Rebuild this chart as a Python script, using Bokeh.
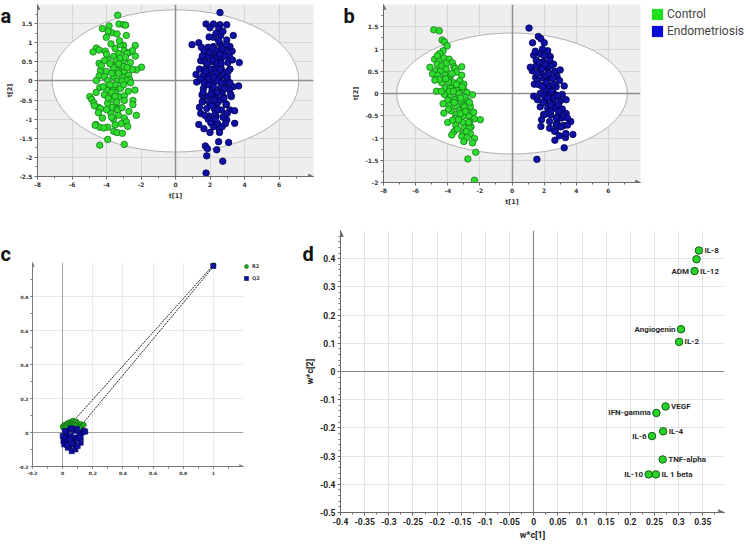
import numpy as np
from bokeh.plotting import figure
from bokeh.layouts import column, row
from bokeh.models import (Range1d, FixedTicker, NumeralTickFormatter, Label, LabelSet, GridBox,
                          ColumnDataSource, Legend, LegendItem, Arrow, NormalHead)
from bokeh.core.properties import value
from bokeh.embed import file_html
from bokeh.resources import INLINE

# ------------------------------------------------------------------ data
# Panel a: OPLS-DA score plot t[1] vs t[2]
A_CONTROL = [(-3.35,1.72),(-4.24,1.37),(-3.85,1.44),(-3.28,1.49),(-3.01,1.47),(-2.89,1.46),(-3.68,1.26),
 (-3.39,1.23),(-4.01,1.14),(-2.85,1.19),(-3.74,0.97),(-3.01,0.93),(-2.33,0.93),(-4.59,0.86),(-4.43,0.81),
 (-4.78,0.76),(-4.07,0.78),(-3.29,0.72),(-2.97,0.79),(-2.72,0.74),(-2.50,0.79),(-2.33,0.65),(-2.81,0.72),
 (-3.58,0.64),(-3.93,0.57),(-4.43,0.46),(-4.12,0.53),(-3.43,0.53),(-3.01,0.53),(-2.62,0.48),(-1.97,0.36),
 (-2.27,0.29),(-3.16,0.39),(-3.62,0.39),(-4.35,0.27),(-4.01,0.25),(-3.39,0.27),(-2.97,0.25),(-2.72,0.15),
 (-4.43,0.13),(-4.12,0.11),(-3.58,0.11),(-3.10,0.10),(-2.66,0.04),(-4.59,0.01),(-3.93,0.01),(-3.39,-0.01),
 (-2.81,0.01),(-4.39,-0.17),(-3.93,-0.18),(-3.58,-0.18),(-2.74,-0.27),(-2.35,-0.24),(-3.97,-0.25),
 (-3.49,-0.31),(-4.97,-0.41),(-4.86,-0.48),(-4.12,-0.36),(-3.70,-0.48),(-3.28,-0.41),(-2.97,-0.39),
 (-2.47,-0.51),(-2.47,-0.62),(-4.74,-0.57),(-4.47,-0.69),(-3.93,-0.58),(-3.47,-0.65),(-2.97,-0.51),
 (-4.70,-0.65),(-4.35,-0.72),(-3.66,-0.69),(-3.39,-0.74),(-4.47,-0.83),(-3.74,-0.85),(-3.35,-0.76),
 (-4.24,-0.97),(-2.97,-0.97),(-2.27,-0.90),(-2.85,-1.07),(-4.62,-1.14),(-3.93,-1.21),(-3.16,-1.12),
 (-2.77,-1.19),(-4.39,-1.21),(-4.16,-1.23),(-3.58,-1.32),(-3.39,-1.35),(-3.08,-1.37),(-3.93,-1.53),
 (-4.39,-1.68),(-2.97,-1.66),(-4.66,-1.16),(-3.30,0.20),(-3.50,-0.10),(-3.20,-0.20),(-3.60,0.35),
 (-3.00,0.38),(-3.40,-0.55),(-3.70,-0.30),(-3.10,0.00),(-3.80,0.45),(-3.20,0.60),(-3.50,0.85),
 (-4.20,-0.15),(-3.90,-0.45),(-3.30,-0.90),(-3.60,-1.00),(-4.00,0.70),(-3.20,0.95),(-2.90,0.62),
 (-3.70,0.20),(-4.30,0.40),(-3.00,-0.10),(-3.80,-0.10),(-2.60,-0.05),(-3.50,-0.40),(-4.00,-0.75),
 (-3.10,-0.70),(-2.70,-0.80),(-3.50,-1.15),(-4.60,-0.30),(-2.50,0.30),(-3.25,1.05),(-3.90,1.30),
 (-3.30,0.45),(-2.80,0.35),(-3.70,-0.95)]
A_ENDO = [(2.58,1.79),(1.77,1.49),(2.20,1.49),(2.58,1.47),(2.97,1.47),(2.00,1.39),(2.50,1.37),(3.35,1.19),
 (2.62,1.19),(2.20,1.14),(2.97,1.07),(0.96,0.95),(1.35,1.00),(1.50,0.88),(1.89,0.88),(2.20,0.90),(2.58,0.97),
 (3.16,0.90),(1.66,0.78),(2.04,0.76),(2.43,0.79),(2.89,0.79),(3.28,0.78),(1.89,0.65),(2.27,0.64),(2.66,0.60),
 (3.12,0.64),(1.46,0.53),(1.73,0.50),(2.12,0.50),(2.58,0.48),(3.04,0.48),(3.70,0.48),(1.39,0.31),(1.81,0.36),
 (2.24,0.32),(2.66,0.31),(3.16,0.31),(1.19,0.17),(1.62,0.15),(2.00,0.15),(2.43,0.17),(2.85,0.13),(3.66,-0.13),
 (1.23,-0.03),(1.70,-0.04),(2.12,-0.04),(2.58,-0.01),(3.04,-0.01),(3.35,-0.15),(1.62,-0.20),(2.12,-0.24),
 (2.58,-0.20),(3.12,-0.22),(1.54,-0.37),(1.89,-0.41),(2.35,-0.39),(2.81,-0.43),(3.24,-0.41),(1.58,-0.53),
 (1.97,-0.57),(2.43,-0.58),(2.93,-0.62),(1.39,-0.69),(1.81,-0.72),(2.27,-0.74),(2.66,-0.76),(3.16,-0.76),
 (3.43,-0.78),(1.46,-0.85),(1.93,-0.92),(2.35,-0.92),(2.81,-0.93),(2.97,-1.02),(1.35,-1.14),(1.89,-1.00),
 (2.43,-1.11),(2.89,-1.12),(3.43,-1.11),(2.00,-1.35),(2.54,-1.25),(2.50,-1.59),(3.08,-1.61),(1.73,-1.70),
 (1.85,-1.77),(1.81,-1.96),(2.39,-1.80),(2.74,-2.10),(1.77,-2.41),(2.30,0.60),(2.00,0.30),(2.50,0.05),
 (2.20,-0.15),(2.70,-0.30),(1.90,-0.10),(2.40,0.45),(2.80,0.20),(2.10,-0.65),(2.60,-0.50),(1.80,0.05),
 (2.90,-0.05),(2.30,-0.85),(2.00,0.75),(2.70,0.85),(1.70,0.30),(2.50,1.05),(3.00,0.10),(2.20,-1.20),(1.60,-0.30),
 (1.55,0.65),(1.75,0.25),(1.95,0.05),(2.15,0.85),(2.35,0.20),(2.45,-0.30),(2.65,0.45),(2.85,0.65),(3.05,0.25),
 (3.20,-0.35),(2.95,-0.60),(2.75,-0.95),(2.55,-1.35),(2.05,-1.10),(1.70,-0.90),(1.55,-0.55),(1.45,0.05),
 (1.65,-0.05),(2.25,-0.50),(2.45,-0.75),(2.85,-0.20),(3.30,0.55),(2.35,1.25),(2.75,1.30),(1.95,1.15),
 (2.15,0.55),(2.55,0.70),(2.95,0.95),(2.05,-0.35),(2.65,-0.05),(3.15,-0.05),(1.85,0.45),(2.40,0.00),
 (2.60,0.30),(2.20,0.10),(2.80,-0.45),(3.00,-0.85),(2.30,-1.00),(1.65,-1.25),(2.70,-1.20)]
A_ELLIPSE_AXES = (14.3, 3.72)          # full widths of the Hotelling T2 ellipse (t[1], t[2])

# Panel b: score plot
B_CONTROL = [(-4.87,1.43),(-4.53,1.41),(-4.35,1.20),(-4.20,1.16),(-4.04,1.07),(-4.29,0.96),(-4.82,0.77),
 (-4.53,0.74),(-4.24,0.80),(-3.91,0.77),(-4.66,0.66),(-4.37,0.62),(-4.08,0.68),(-3.71,0.69),(-3.62,0.60),
 (-5.11,0.59),(-4.74,0.51),(-4.45,0.50),(-3.54,0.56),(-3.13,0.60),(-4.95,0.44),(-4.62,0.41),(-4.16,0.42),
 (-3.83,0.39),(-3.46,0.48),(-3.13,0.41),(-4.37,0.24),(-3.91,0.29),(-3.62,0.24),(-3.25,0.29),(-3.00,0.21),
 (-4.16,0.12),(-3.83,0.12),(-3.46,0.09),(-3.00,0.08),(-2.80,0.02),(-4.70,0.05),(-4.20,-0.02),(-3.83,-0.05),
 (-3.37,-0.08),(-2.92,-0.09),(-2.46,-0.03),(-4.00,-0.15),(-3.58,-0.14),(-3.17,-0.17),(-2.75,-0.17),
 (-4.29,-0.23),(-3.87,-0.27),(-3.42,-0.30),(-3.00,-0.27),(-2.59,-0.29),(-3.79,-0.39),(-3.29,-0.39),
 (-2.80,-0.41),(-2.38,-0.42),(-4.24,-0.44),(-3.50,-0.48),(-3.04,-0.51),(-2.67,-0.51),(-1.97,-0.59),
 (-2.34,-0.57),(-3.54,-0.56),(-4.00,-0.65),(-3.08,-0.65),(-2.63,-0.63),(-3.50,-0.72),(-2.96,-0.77),
 (-2.55,-0.75),(-3.62,-0.86),(-3.75,-0.93),(-3.04,-0.90),(-2.67,-0.78),(-2.59,-0.90),(-3.13,-0.96),
 (-2.80,-0.99),(-2.34,-1.01),(-3.00,-1.08),(-2.46,-1.11),(-2.26,-1.32),(-2.75,-1.47),(-2.34,-1.95),
 (-3.95,0.26),(-4.12,0.33),(-2.96,-0.30),(-3.33,-0.59),(-4.53,0.32),(-3.60,-0.20),(-3.30,0.00),
 (-3.90,0.05),(-3.20,-0.45),(-4.50,0.90),(-3.70,-0.60),(-4.65,0.85),(-4.10,0.55),(-3.75,0.45),
 (-3.45,0.20),(-3.20,-0.10),(-2.90,-0.40),(-2.70,-0.65),(-3.40,-0.80),(-4.40,0.05),(-3.65,0.05),
 (-2.65,-0.20),(-3.95,-0.35),(-2.85,-0.85),(-4.80,0.30),(-3.10,0.15)]
B_ENDO = [(1.06,1.47),(1.28,1.14),(1.64,1.28),(1.80,1.23),(2.01,1.14),(1.35,0.86),(1.76,0.89),(2.22,0.96),
 (1.51,0.75),(1.93,0.71),(2.38,0.83),(1.68,0.60),(2.17,0.60),(2.59,0.66),(1.26,0.51),(1.76,0.48),(2.26,0.48),
 (2.67,0.50),(3.00,0.53),(1.47,0.36),(1.93,0.35),(2.38,0.35),(2.80,0.39),(1.39,0.21),(1.84,0.18),(2.30,0.17),
 (2.75,0.15),(3.25,0.17),(1.35,-0.06),(1.76,0.00),(2.26,-0.02),(2.71,-0.03),(3.13,-0.02),(1.59,-0.14),
 (2.05,-0.18),(2.55,-0.20),(3.00,-0.17),(3.37,-0.14),(1.76,-0.30),(2.22,-0.33),(2.71,-0.33),(3.13,-0.35),
 (1.97,-0.47),(2.42,-0.48),(2.92,-0.47),(3.37,-0.45),(1.84,-0.59),(2.34,-0.63),(2.80,-0.66),(3.66,-0.63),
 (1.80,-0.74),(2.34,-0.78),(2.75,-0.71),(3.21,-0.72),(3.46,-0.71),(3.79,-0.92),(3.33,-0.99),(2.71,-0.84),
 (2.67,-1.05),(3.25,-1.22),(1.55,-1.48),(2.59,0.21),(2.09,0.08),(2.51,0.06),(2.96,0.29),(1.14,0.59),
 (1.51,0.62),(2.38,0.62),(2.05,-0.47),(3.35,-0.90),(1.60,0.30),(2.10,0.40),(2.50,-0.10),(2.00,-0.05),
 (2.90,-0.25),(1.90,1.00),(2.40,-0.40),(3.10,-0.55),(1.45,0.95),(1.70,0.70),(1.85,0.55),(2.00,0.85),
 (2.15,0.25),(2.30,0.45),(2.45,0.05),(2.60,-0.10),(2.75,-0.55),(2.90,-0.40),(3.05,-0.75),(2.20,-0.10),
 (1.65,0.20),(1.90,0.15),(2.40,-0.25),(2.55,0.35),(2.85,-0.05),(3.20,-0.50),(2.10,0.65),(1.55,0.45),
 (2.65,-0.85),(2.95,-0.95),(3.45,-0.55),(2.35,0.75),(1.95,-0.20)]
B_ELLIPSE_AXES = (14.36, 2.72)

# Panel c: permutation test (R2 and Q2)
C_R2_X = [0.0, 0.01, 0.02, 0.03, 0.035, 0.045, 0.05, 0.06, 0.065, 0.07, 0.08, 0.09, 0.095, 0.10, 0.11,
          0.12, 0.13, 0.005, 0.025, 0.055, 0.075, 0.085, 0.105, 0.115, 0.14, 1.0]
C_R2_Y = [0.035, 0.045, 0.04, 0.055, 0.05, 0.06, 0.045, 0.065, 0.055, 0.07, 0.06, 0.065, 0.05, 0.055, 0.045,
          0.05, 0.04, 0.025, 0.03, 0.035, 0.045, 0.04, 0.035, 0.03, 0.045, 0.985]
C_Q2_X = [0.0, 0.005, 0.01, 0.02, 0.025, 0.03, 0.04, 0.045, 0.05, 0.055, 0.06, 0.07, 0.075, 0.08, 0.09,
          0.10, 0.11, 0.12, 0.13, 0.14, 0.015, 0.035, 0.065, 0.085, 0.095, 0.05, 0.03, 0.06, 0.10, 0.12,
          0.15, 1.0]
C_Q2_Y = [-0.02, -0.05, -0.07, -0.03, -0.06, 0.0, -0.04, -0.08, 0.02, -0.02, -0.11, -0.05, 0.01, -0.07,
          -0.03, -0.04, -0.01, -0.06, 0.0, 0.01, 0.01, -0.09, -0.065, -0.10, 0.02, -0.04, -0.075, 0.025,
          -0.08, -0.03, 0.005, 0.98]
C_R2_FIT_X = [0.09, 1.0]
C_R2_FIT_Y = [0.085, 0.985]
C_Q2_FIT_X = [0.13, 1.0]
C_Q2_FIT_Y = [0.05, 0.975]

# Panel d: loading plot w*c[1] vs w*c[2]
D_X = [0.342, 0.337, 0.333, 0.305, 0.301, 0.273, 0.254, 0.268, 0.245, 0.267, 0.238, 0.253]
D_Y = [0.429, 0.398, 0.356, 0.150, 0.105, -0.124, -0.147, -0.212, -0.229, -0.312, -0.365, -0.365]
D_LABEL_TEXT = ["IL-8", "ADM", "IL-12", "Angiogenin", "IL-2", "VEGF", "IFN-gamma", "IL-4", "IL-6",
                "TNF-alpha", "IL-10", "IL 1 beta"]
D_LABEL_POINT = [0, 2, 2, 3, 4, 5, 6, 7, 8, 9, 10, 11]
D_LABEL_SIDE = ["right", "left", "right", "left", "right", "right", "left", "right", "left",
                "right", "left", "right"]

# ticks
AB_X_TICKS = [-8, -6, -4, -2, 0, 2, 4, 6]
A_Y_TICKS = [-2.5, -2, -1.5, -1, -0.5, 0, 0.5, 1, 1.5]
B_Y_TICKS = [-2, -1.5, -1, -0.5, 0, 0.5, 1, 1.5]
C_X_TICKS = [-0.2, 0, 0.2, 0.4, 0.6, 0.8, 1]
C_Y_TICKS = [-0.2, 0, 0.2, 0.4, 0.6, 0.8]
D_X_TICKS = [-0.4, -0.35, -0.3, -0.25, -0.2, -0.15, -0.1, -0.05, 0, 0.05, 0.1, 0.15, 0.2, 0.25, 0.3, 0.35]
D_Y_TICKS = [-0.5, -0.4, -0.3, -0.2, -0.1, 0, 0.1, 0.2, 0.3, 0.4]

# ------------------------------------------------------------------ styles
GREEN, GREEN_LINE = "#2edc2e", "#15781a"
BLUE, BLUE_LINE = "#1010a6", "#00004d"
LEG_GREEN, LEG_BLUE = "#1fe01f", "#0a0ad6"
PANEL_BG = "#eeeeee"
FONT = "DejaVu Sans"
AFONT = "Roboto"
W, H = 746, 547
TOP_H, BOT_H = 222, 325


def make_fig(w, h, xr, yr, borders, bg):
    l, r, t, b = borders
    return figure(width=w, height=h, x_range=Range1d(*xr), y_range=Range1d(*yr),
                  output_backend="svg", toolbar_location=None, frame_align=False,
                  min_border_left=l, min_border_right=r, min_border_top=t, min_border_bottom=b,
                  background_fill_color=bg, border_fill_color="white", outline_line_color=None)


def style(p, xt, yt, xminor, yminor, font, fsize, xlabel, ylabel, lsize, grid_color, axis_color,
          tick_out=3, standoff=2, label_color="#333333"):
    p.xaxis[0].ticker = FixedTicker(ticks=xt, minor_ticks=xminor)
    p.yaxis[0].ticker = FixedTicker(ticks=yt, minor_ticks=yminor)
    p.xgrid[0].ticker = FixedTicker(ticks=xt)
    p.ygrid[0].ticker = FixedTicker(ticks=yt)
    for g in (p.xgrid[0], p.ygrid[0]):
        g.grid_line_color = grid_color
        g.grid_line_width = 1
    for ax in (p.xaxis[0], p.yaxis[0]):
        ax.formatter = NumeralTickFormatter(format="0.[00]")
        ax.major_label_text_font = font
        ax.major_label_text_font_size = fsize
        ax.major_label_text_font_style = "bold"
        ax.major_label_text_color = label_color
        ax.axis_line_color = axis_color
        ax.major_tick_line_color = axis_color
        ax.minor_tick_line_color = axis_color
        ax.major_tick_in = 0
        ax.major_tick_out = tick_out
        ax.minor_tick_in = 0
        ax.minor_tick_out = 2
        ax.major_label_standoff = standoff
        ax.axis_label_text_font = font
        ax.axis_label_text_font_size = lsize
        ax.axis_label_text_font_style = "bold"
        ax.axis_label_text_color = label_color
        ax.axis_label_standoff = 2
    p.xaxis[0].axis_label = xlabel
    p.yaxis[0].axis_label = ylabel


def axis_arrows(p, xr, yr, color, size=5):
    dy = (yr[1] - yr[0]) * 0.01
    dx = (xr[1] - xr[0]) * 0.01
    p.add_layout(Arrow(end=NormalHead(size=size, fill_color=color, line_color=color, line_width=0.5),
                       x_start=xr[0], y_start=yr[1] - dy, x_end=xr[0], y_end=yr[1],
                       line_color=color, line_width=1))
    p.add_layout(Arrow(end=NormalHead(size=size, fill_color=color, line_color=color, line_width=0.5),
                       x_start=xr[1] - dx, y_start=yr[0], x_end=xr[1], y_end=yr[0],
                       line_color=color, line_width=1))


def score_panel(w, borders, xr, yr, yt, control, endo, ell):
    p = make_fig(w, TOP_H, xr, yr, borders, PANEL_BG)
    style(p, AB_X_TICKS, yt, list(np.arange(-7, 8, 1.0)), list(np.arange(yr[0], yr[1], 0.25)),
          FONT, "6px", "t[1]", "t[2]", "6.5px", "#d6d6d6", "#6a6a6a")
    p.ellipse(x=[0], y=[0], width=[ell[0]], height=[ell[1]], fill_color="white",
              line_color="#b0b0b0", line_width=1)
    p.vspan(x=[0], line_color="#8f8f8f", line_width=1.5)
    p.hspan(y=[0], line_color="#8f8f8f", line_width=1.5)
    p.scatter([c[0] for c in control], [c[1] for c in control], size=6.5, fill_color=GREEN,
              line_color=GREEN_LINE, line_width=0.8)
    p.scatter([c[0] for c in endo], [c[1] for c in endo], size=6.5, fill_color=BLUE,
              line_color=BLUE_LINE, line_width=0.8)
    axis_arrows(p, xr, yr, "#6a6a6a")
    return p


# ------------------------------------------------------------------ panel a / b
fa = score_panel(343, (37, 30, 4, 46), (-8, 8), (-2.5, 2.0), A_Y_TICKS, A_CONTROL, A_ENDO, A_ELLIPSE_AXES)
fb = score_panel(403, (40, 106, 4, 40), (-8, 8), (-2.0, 2.0), B_Y_TICKS, B_CONTROL, B_ENDO, B_ELLIPSE_AXES)

# ------------------------------------------------------------------ panel c
c_xr, c_yr = (-0.2, 1.2), (-0.2, 1.0)
fc = make_fig(290, BOT_H, c_xr, c_yr, (32, 47, 40, 81), "white")
style(fc, C_X_TICKS, C_Y_TICKS, list(np.arange(-0.1, 1.2, 0.1)), list(np.arange(-0.1, 1.0, 0.1)),
      FONT, "4.5px", "", "", "5px", "#e9e9e9", "#7a7a7a", tick_out=2, standoff=2)
fc.vspan(x=[0], line_color="#a0a0a0", line_width=1)
fc.hspan(y=[0], line_color="#a0a0a0", line_width=1)
fc.line(C_R2_FIT_X, C_R2_FIT_Y, line_color="#222222", line_width=1, line_dash="2 1")
fc.line(C_Q2_FIT_X, C_Q2_FIT_Y, line_color="#222222", line_width=1, line_dash="2 1")
fc.scatter(C_R2_X, C_R2_Y, size=5, fill_color="#22b022", line_color="#0d600d", line_width=0.6)
fc.scatter(C_Q2_X, C_Q2_Y, marker="square", size=5, fill_color=BLUE, line_color=BLUE_LINE,
           line_width=0.6)
axis_arrows(fc, c_xr, c_yr, "#7a7a7a", size=4)

# ------------------------------------------------------------------ panel d
d_xr, d_yr = (-0.4, 0.395), (-0.5, 0.5)
fd = make_fig(456, BOT_H, d_xr, d_yr, (50, 22, 8, 35), "white")
style(fd, D_X_TICKS, D_Y_TICKS, list(np.arange(-0.375, 0.39, 0.05)), list(np.arange(-0.48, 0.5, 0.02)),
      AFONT, "8.5px", "w*c[1]", "w*c[2]", "9px", "#e4e4e4", "#6a6a6a", label_color="#1e1e1e")
fd.vspan(x=[0], line_color="#8a8a8a", line_width=1.2)
fd.hspan(y=[0], line_color="#8a8a8a", line_width=1.2)
fd.scatter(D_X, D_Y, size=7.5, fill_color="#27d327", line_color="#145c14", line_width=1)
for side, off, align in (("right", 5.5, "left"), ("left", -5.5, "right")):
    idx = [i for i, s in enumerate(D_LABEL_SIDE) if s == side]
    src = ColumnDataSource(dict(
        x=[D_X[D_LABEL_POINT[i]] for i in idx],
        y=[D_Y[D_LABEL_POINT[i]] for i in idx],
        t=[D_LABEL_TEXT[i] for i in idx]))
    fd.add_layout(LabelSet(x="x", y="y", text="t", source=src, x_offset=off, text_align=align,
                           text_baseline="middle", text_font_size="8px", text_font_style="bold",
                           text_color="#2a2a2a", text_font=value(AFONT)))
axis_arrows(fd, d_xr, d_yr, "#6a6a6a", size=6)

base = column(row(fa, fb), row(fc, fd))

# ------------------------------------------------------------------ overlay: panel letters + legends
ov = figure(width=W, height=H, x_range=Range1d(0, W), y_range=Range1d(H, 0),
            x_axis_type=None, y_axis_type=None, output_backend="svg", toolbar_location=None,
            min_border=0, background_fill_alpha=0, border_fill_alpha=0, outline_line_color=None)
for t, x, y in (("a", 0, 15), ("b", 343, 15), ("c", 0, 253), ("d", 302, 253)):
    ov.add_layout(Label(x=x, y=y, text=t, text_font=AFONT, text_font_size="20px",
                        text_font_style="bold", text_color="#111111", text_baseline="alphabetic"))

NAN = float("nan")
ctrl_proxy = ov.quad(left=[NAN], right=[NAN], top=[NAN], bottom=[NAN], fill_color=LEG_GREEN,
                     line_color=None)
endo_proxy = ov.quad(left=[NAN], right=[NAN], top=[NAN], bottom=[NAN], fill_color=LEG_BLUE,
                     line_color=None)
ov.add_layout(Legend(items=[LegendItem(label="Control", renderers=[ctrl_proxy]),
                            LegendItem(label="Endometriosis", renderers=[endo_proxy])],
                     location=(650, H - 38), glyph_width=14, glyph_height=14, label_height=14,
                     label_text_font=AFONT, label_text_font_size="12px", label_standoff=3,
                     spacing=3, padding=0, margin=0, border_line_color=None,
                     background_fill_alpha=0))

r2_proxy = ov.scatter([NAN], [NAN], size=4.5, fill_color="#22b022", line_color="#0d600d",
                      line_width=0.6)
q2_proxy = ov.scatter([NAN], [NAN], marker="square", size=4.5, fill_color=BLUE, line_color=BLUE_LINE,
                      line_width=0.6)
ov.add_layout(Legend(items=[LegendItem(label="R2", renderers=[r2_proxy]),
                            LegendItem(label="Q2", renderers=[q2_proxy])],
                     location=(241, H - 283), glyph_width=10, glyph_height=10, label_height=10,
                     label_text_font=FONT, label_text_font_size="5px", label_text_font_style="bold",
                     label_standoff=1, spacing=2, padding=0, margin=0, border_line_color=None,
                     background_fill_alpha=0))

page = GridBox(children=[(base, 0, 0), (ov, 0, 0)])
open("out.html", "w").write(file_html(page, INLINE))
